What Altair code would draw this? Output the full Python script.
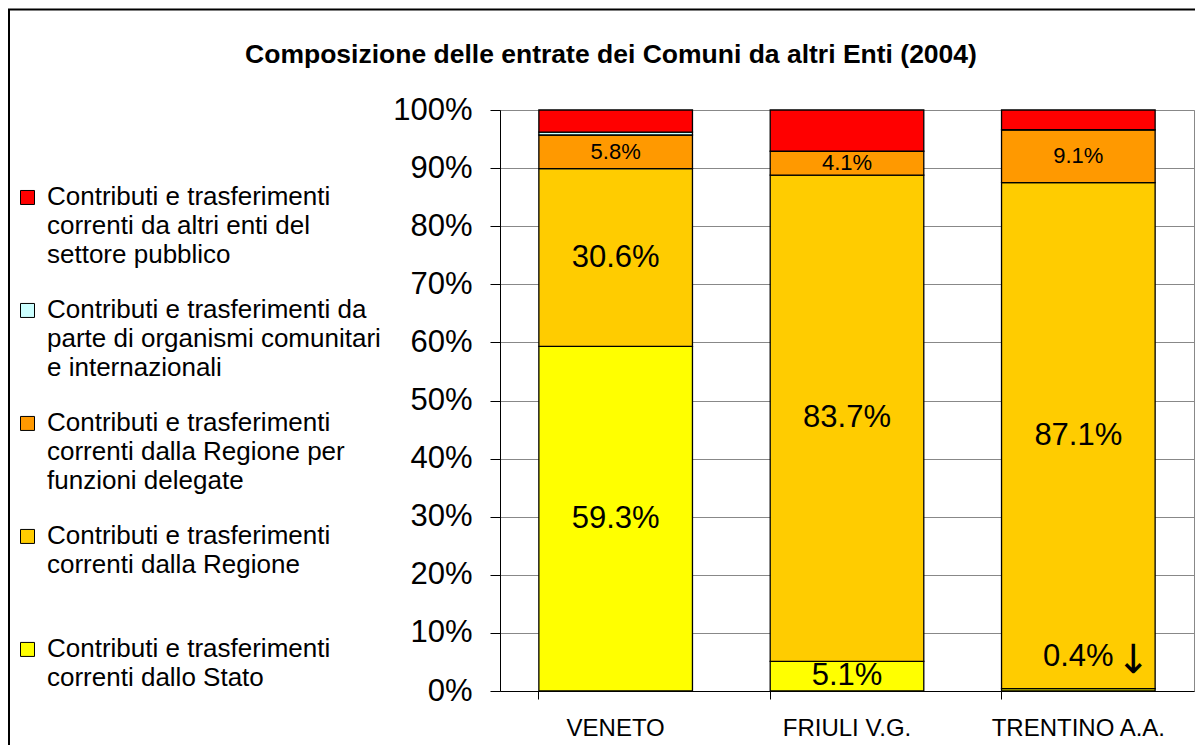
import altair as alt
import pandas as pd

FONT = "Liberation Sans"

regions = ["VENETO", "FRIULI V.G.", "TRENTINO A.A."]
series = [
    "Contributi e trasferimenti\ncorrenti dallo Stato",
    "Contributi e trasferimenti\ncorrenti dalla Regione",
    "Contributi e trasferimenti\ncorrenti dalla Regione per\nfunzioni delegate",
    "Contributi e trasferimenti da\nparte di organismi comunitari\ne internazionali",
    "Contributi e trasferimenti\ncorrenti da altri enti del\nsettore pubblico",
]
colors = ["#FFFF00", "#FFCC00", "#FF9900", "#CCFFFF", "#FF0000"]
stato = [59.3, 5.1, 0.4]
regione = [30.6, 83.7, 87.1]
delegate = [5.8, 4.1, 9.1]
comunitari = [0.5, 0.0, 0.0]
altri = [3.8, 7.1, 3.4]
y_ticks = list(range(0, 101, 10))
title_text = "Composizione delle entrate dei Comuni da altri Enti (2004)"

values_by_series = [stato, regione, delegate, comunitari, altri]
rows = []
for si, (name, vals) in enumerate(zip(series, values_by_series)):
    for ri, reg in enumerate(regions):
        rows.append({"region": reg, "series": name, "order": si,
                     "value": vals[ri], "color": colors[si]})
df = pd.DataFrame(rows)

legend_names = series[::-1]
legend_df = pd.DataFrame({"name": legend_names, "color": colors[::-1]})

x_enc = alt.X(
    "region:N",
    scale=alt.Scale(domain=regions, paddingInner=0.336, paddingOuter=0.168),
    axis=alt.Axis(title=None, labelFontSize=24, labelFont=FONT, labelColor="black",
                  labelAngle=0, labelPadding=17, tickSize=8, tickColor="black",
                  domainColor="black", bandPosition=0, grid=False),
)
y_scale = alt.Scale(domain=[0, 100], nice=False)
y_axis = alt.Axis(values=y_ticks, labelExpr="datum.value + '%'", labelFontSize=31,
                  labelFont=FONT, labelColor="black", labelPadding=18, tickSize=10,
                  tickColor="black", domainColor="black", gridColor="#888888",
                  gridWidth=1, title=None)

base = alt.Chart(df).transform_stack(
    stack="value", groupby=["region"],
    sort=[alt.SortField("order", order="ascending")], as_=["v0", "v1"]
).transform_calculate(
    mid="(datum.v0 + datum.v1) / 2",
    label="format(datum.value, '.1f') + '%'",
)

bars = base.mark_bar(stroke="black", strokeWidth=1.3).encode(
    x=x_enc,
    y=alt.Y("v0:Q", scale=y_scale, axis=y_axis),
    y2="v1:Q",
    color=alt.Color("color:N", scale=None),
)

is_anno = "datum.region == 'TRENTINO A.A.' && datum.order == 0"

labels_big = base.transform_filter(
    f"datum.order <= 1 && !({is_anno})"
).mark_text(fontSize=31, font=FONT, color="black", baseline="middle").encode(
    x=alt.X("region:N"), y=alt.Y("mid:Q"), text="label:N"
)
labels_small = base.transform_filter("datum.order == 2").mark_text(
    fontSize=22, font=FONT, color="black", baseline="middle"
).encode(x=alt.X("region:N"), y=alt.Y("mid:Q"), text="label:N")

anno_label = base.transform_filter(is_anno).mark_text(
    fontSize=31, font=FONT, color="black", baseline="middle", dy=-33
).encode(x=alt.X("region:N"), y=alt.Y("mid:Q"), text="label:N")
anno_arrow = base.transform_filter(is_anno).transform_calculate(
    arrow="'↓'"
).mark_text(fontSize=40, font="DejaVu Sans", color="black", baseline="middle",
            dx=55, dy=-29).encode(
    x=alt.X("region:N"), y=alt.Y("mid:Q"), text="arrow:N"
)

main = alt.layer(bars, labels_big, labels_small, anno_label, anno_arrow)

leg_scale = alt.Scale(type="point", domain=legend_names, padding=0.571, align=0.736)
leg_sq = alt.Chart(legend_df).mark_square(
    size=196, filled=True, opacity=1, stroke="black", strokeWidth=1, yOffset=-7.5
).encode(
    x=alt.value(-472.5),
    y=alt.Y("name:N", scale=leg_scale, axis=None),
    color=alt.Color("color:N", scale=None),
)
leg_txt = alt.Chart(legend_df).mark_text(
    align="left", baseline="top", fontSize=26, lineHeight=29, lineBreak="\n",
    font=FONT, color="black", dy=-20.5
).encode(
    x=alt.value(-453),
    y=alt.Y("name:N", scale=leg_scale, axis=None),
    text="name:N",
)
legend = alt.layer(leg_sq, leg_txt)

one = pd.DataFrame({"t": [title_text]})
frame = alt.Chart(one).mark_rect(fill="transparent", stroke="black", strokeWidth=2).encode(
    x=alt.value(-491), x2=alt.value(760), y=alt.value(-100.5), y2=alt.value(760)
)
title = alt.Chart(one).mark_text(
    fontSize=26.5, fontWeight="bold", font=FONT, color="black", align="center",
    baseline="middle"
).encode(x=alt.value(111), y=alt.value(-55), text="t:N")

chart = alt.layer(main, legend, frame, title).resolve_scale(y="independent").properties(
    width=694, height=581,
    padding={"left": 492, "top": 102, "right": 1, "bottom": 54},
    autosize=alt.AutoSizeParams(type="none"),
    background="white",
).configure_view(stroke="#888888", strokeWidth=1)

chart.save("out.html", embed_options={"renderer": "svg", "actions": False})
